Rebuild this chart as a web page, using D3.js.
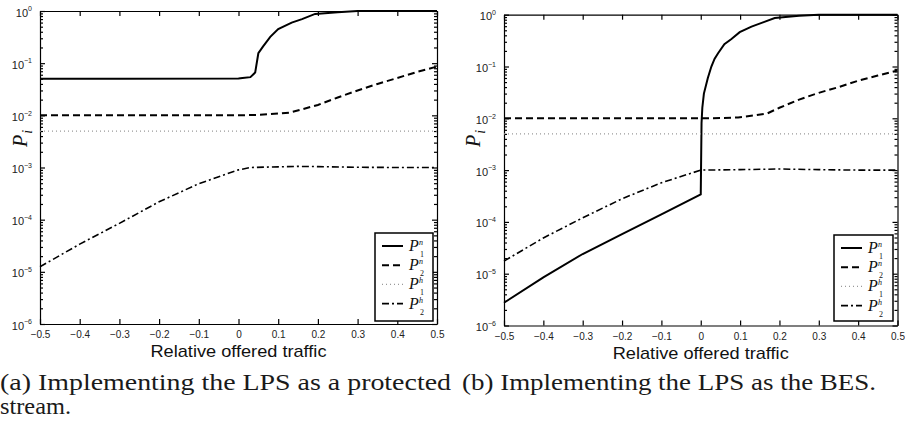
<!DOCTYPE html>
<html lang="en">
<head>
<meta charset="utf-8">
<title>Loss probabilities vs relative offered traffic</title>
<script src="https://cdn.jsdelivr.net/npm/d3@7"></script>
<style>
    body {margin: 0; background: white;}
    svg {display: block; background: white;}
    .axis path, .axis line {fill: none; stroke: black; stroke-width: 1.2px;}
    .axis text {font-family: "Liberation Sans", Arial, sans-serif; font-size: 10px; fill: #222;}
</style>
</head>
<body>
<script>
// tick values
var xTicks = [-0.5, -0.4, -0.3, -0.2, -0.1, 0, 0.1, 0.2, 0.3, 0.4, 0.5];
var yExponents = [0, -1, -2, -3, -4, -5, -6];

// (a) LPS as a protected stream  -- [relative offered traffic, P]
var aP1n = [[-0.5,0.05],[-0.3,0.05],[0,0.051],[0.01,0.052],[0.03,0.054],[0.042,0.066],[0.05,0.155],
            [0.062,0.21],[0.08,0.32],[0.1,0.45],[0.134,0.6],[0.16,0.7],[0.193,0.88],[0.25,0.95],[0.3,1.0],[0.5,1.0]];
var aP2n = [[-0.5,0.01],[-0.2,0.01],[0,0.01],[0.05,0.0102],[0.1,0.0108],[0.13,0.0113],[0.2,0.0158],
            [0.25,0.022],[0.3,0.03],[0.35,0.04],[0.4,0.052],[0.45,0.068],[0.5,0.086]];
var aP1h = [[-0.5,0.005],[0.5,0.005]];
var aP2h = [[-0.5,1.25e-5],[-0.4,3.4e-5],[-0.3,8.5e-5],[-0.2,2.2e-4],[-0.1,4.9e-4],[0,9e-4],[0.03,1e-3],
            [0.1,1.03e-3],[0.15,1.05e-3],[0.2,1.04e-3],[0.3,1.01e-3],[0.4,1e-3],[0.5,1e-3]];

// (b) LPS as the BES
var bP1n = [[-0.5,2.75e-6],[-0.4,8.5e-6],[-0.3,2.4e-5],[-0.2,5.8e-5],[-0.1,1.4e-4],[0,3.4e-4],[0.002,8e-3],
            [0.004,0.016],[0.008,0.03],[0.018,0.06],[0.027,0.1],[0.035,0.14],[0.044,0.18],[0.06,0.27],
            [0.078,0.34],[0.099,0.46],[0.129,0.59],[0.16,0.72],[0.188,0.86],[0.25,0.95],[0.3,1],[0.5,1]];
var bP2n = [[-0.5,0.01],[0,0.01],[0.05,0.0101],[0.095,0.0104],[0.14,0.0115],[0.17,0.0125],[0.2,0.016],
            [0.25,0.023],[0.3,0.031],[0.35,0.04],[0.4,0.053],[0.45,0.067],[0.5,0.084]];
var bP1h = [[-0.5,0.005],[0.5,0.005]];
var bP2h = [[-0.5,1.75e-5],[-0.4,4.9e-5],[-0.3,1.2e-4],[-0.2,2.8e-4],[-0.1,5.7e-4],[0,1e-3],
            [0.1,1.02e-3],[0.2,1.05e-3],[0.3,1.02e-3],[0.4,1e-3],[0.5,1e-3]];

var legendSup = ["n", "n", "h", "h"];
var legendSub = ["1", "2", "1", "2"];

var captionA = ["(a) Implementing the LPS as a protected", "stream."];
var captionB = ["(b) Implementing the LPS as the BES."];

var w = 905, h = 425;

// line styles for the 4 series
var styles = [
    {stroke: "black", width: 2, dash: null},
    {stroke: "black", width: 2, dash: "7,4"},
    {stroke: "#999", width: 1.2, dash: "1,3"},
    {stroke: "black", width: 1.6, dash: "7,3,2,3"}
];

var svg = d3.select("body")
    .append("svg")
    .attr("width", w)
    .attr("height", h);

function drawPanel(box, series, legendBox, labelX) {
    var xScale = d3.scaleLinear()
        .domain([-0.5, 0.5])
        .range([box.left, box.right]);

    var yScale = d3.scaleLog()
        .domain([1e-6, 1])
        .range([box.bottom, box.top]);

    var g = svg.append("g");

    var majors = yExponents.map(function(e) { return Math.pow(10, e); });
    var minors = [];
    for (var e = -6; e < 0; e++) {
        for (var k = 2; k <= 9; k++) minors.push(k * Math.pow(10, e));
    }

    // bottom axis with labels
    g.append("g")
        .attr("class", "axis")
        .attr("transform", "translate(0," + box.bottom + ")")
        .call(d3.axisBottom(xScale).tickValues(xTicks).tickSize(-5).tickSizeOuter(0).tickPadding(7)
            .tickFormat(function(d) { return d === 0 ? "0" : d3.format(".1f")(d).replace("-", "\u2212"); }));

    // top axis, ticks only
    g.append("g")
        .attr("class", "axis")
        .attr("transform", "translate(0," + box.top + ")")
        .call(d3.axisTop(xScale).tickValues(xTicks).tickSize(-5).tickSizeOuter(0).tickFormat(""));

    // left axis
    var left = g.append("g")
        .attr("class", "axis")
        .attr("transform", "translate(" + box.left + ",0)")
        .call(d3.axisLeft(yScale).tickValues(majors).tickSize(-5).tickSizeOuter(0).tickPadding(8).tickFormat(""));

    left.selectAll(".tick text")
        .attr("dy", "0.5em")
        .each(function(d) {
            var t = d3.select(this);
            t.append("tspan").attr("font-size", "11px").text("10");
            t.append("tspan")
                .attr("dy", "-0.75em")
                .attr("font-size", "7px")
                .text(String(Math.round(Math.log10(d))).replace("-", "\u2212"));
        });

    g.append("g")
        .attr("class", "axis")
        .attr("transform", "translate(" + box.left + ",0)")
        .call(d3.axisLeft(yScale).tickValues(minors).tickSize(-3).tickSizeOuter(0).tickFormat(""))
        .select(".domain").remove();

    // right axis
    g.append("g")
        .attr("class", "axis")
        .attr("transform", "translate(" + box.right + ",0)")
        .call(d3.axisRight(yScale).tickValues(majors).tickSize(-5).tickSizeOuter(0).tickFormat(""));

    g.append("g")
        .attr("class", "axis")
        .attr("transform", "translate(" + box.right + ",0)")
        .call(d3.axisRight(yScale).tickValues(minors).tickSize(-3).tickSizeOuter(0).tickFormat(""))
        .select(".domain").remove();

    // series
    var line = d3.line()
        .x(function(d) { return xScale(d[0]); })
        .y(function(d) { return yScale(d[1]); });

    series.forEach(function(s, i) {
        g.append("path")
            .datum(s)
            .attr("d", line)
            .attr("fill", "none")
            .attr("stroke", styles[i].stroke)
            .attr("stroke-width", styles[i].width)
            .attr("stroke-dasharray", styles[i].dash);
    });

    // axis titles
    g.append("text")
        .attr("x", (box.left + box.right) / 2)
        .attr("y", box.bottom + 33)
        .attr("text-anchor", "middle")
        .attr("font-family", "'Liberation Sans', Arial, sans-serif")
        .attr("font-size", "17px")
        .attr("textLength", 176)
        .attr("lengthAdjust", "spacingAndGlyphs")
        .attr("fill", "#111")
        .text("Relative offered traffic");

    var yl = g.append("text")
        .attr("transform", "translate(" + labelX + "," + 147 + ") rotate(-90)")
        .attr("font-family", "'Liberation Serif', 'Times New Roman', serif")
        .attr("font-style", "italic")
        .attr("font-size", "20px")
        .attr("fill", "#111");
    yl.append("tspan").text("P");
    yl.append("tspan").attr("dy", 5).attr("dx", 1).attr("font-size", "14px").text("i");

    // legend
    var lg = g.append("g");
    lg.append("rect")
        .attr("x", legendBox.x)
        .attr("y", legendBox.y)
        .attr("width", legendBox.w)
        .attr("height", legendBox.h)
        .attr("fill", "white")
        .attr("stroke", "black")
        .attr("stroke-width", 1.5);

    legendSup.forEach(function(sup, i) {
        var ry = legendBox.y + 13 + i * 19.2;
        var lx = legendBox.x + 7;
        lg.append("line")
            .attr("x1", lx).attr("x2", lx + 21)
            .attr("y1", ry).attr("y2", ry)
            .attr("stroke", styles[i].stroke)
            .attr("stroke-width", styles[i].width)
            .attr("stroke-dasharray", styles[i].dash);
        lg.append("text")
            .attr("x", lx + 27)
            .attr("y", ry + 5)
            .attr("font-family", "'Liberation Serif', 'Times New Roman', serif")
            .attr("font-style", "italic")
            .attr("font-size", "16px")
            .attr("fill", "#111")
            .text("P");
        lg.append("text")
            .attr("x", lx + 37)
            .attr("y", ry - 1)
            .attr("font-family", "'Liberation Serif', 'Times New Roman', serif")
            .attr("font-style", "italic")
            .attr("font-size", "8px")
            .attr("fill", "#111")
            .text(sup);
        lg.append("text")
            .attr("x", lx + 38)
            .attr("y", ry + 11)
            .attr("font-family", "'Liberation Serif', 'Times New Roman', serif")
            .attr("font-size", "8px")
            .attr("fill", "#111")
            .text(legendSub[i]);
    });
}

drawPanel({left: 40, right: 437, top: 11, bottom: 324},
          [aP1n, aP2n, aP1h, aP2h],
          {x: 375, y: 233, w: 58, h: 88}, 27);

drawPanel({left: 504, right: 897.5, top: 14.7, bottom: 325.5},
          [bP1n, bP2n, bP1h, bP2h],
          {x: 834, y: 235, w: 59, h: 86}, 480);

// captions
var captionWidths = {"(a) Implementing the LPS as a protected": 451, "stream.": 71,
                     "(b) Implementing the LPS as the BES.": 414};
function caption(lines, x) {
    lines.forEach(function(t, i) {
        svg.append("text")
            .attr("x", x)
            .attr("y", 390 + i * 24)
            .attr("font-family", "'Liberation Serif', 'Times New Roman', serif")
            .attr("font-size", "24px")
            .attr("textLength", captionWidths[t])
            .attr("lengthAdjust", "spacingAndGlyphs")
            .attr("fill", "#1a1a1a")
            .text(t);
    });
}
caption(captionA, 0);
caption(captionB, 462);
</script>
</body>
</html>
